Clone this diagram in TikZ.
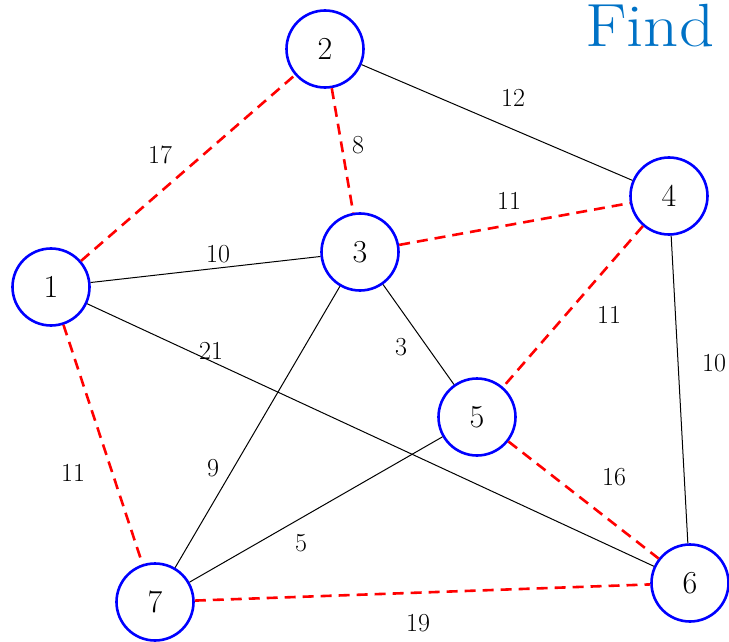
\documentclass[tikz,border=0pt]{standalone}
\definecolor{findblue}{RGB}{0,114,198}
\begin{document}
\begin{tikzpicture}[x=1pt,y=-1pt,
  vertex/.style={circle,draw=blue,line width=2.6pt,minimum size=77pt,inner sep=0pt,fill=white,font=\fontsize{32}{36}\selectfont},
  solidedge/.style={draw=black,line width=1pt},
  redge/.style={draw=red,line width=2.6pt,dash pattern=on 11pt off 7pt},
  wlabel/.style={font=\fontsize{26}{30}\selectfont,inner sep=0pt}]
\useasboundingbox (0,0) rectangle (729,642);
\node[vertex] (n1) at (51,287) {1};
\node[vertex] (n2) at (325,49) {2};
\node[vertex] (n3) at (360,252) {3};
\node[vertex] (n4) at (669,196) {4};
\node[vertex] (n5) at (477,417) {5};
\node[vertex] (n6) at (690,583) {6};
\node[vertex] (n7) at (155,602) {7};
% solid edges
\draw[solidedge] (n2) -- (n4);
\draw[solidedge] (n1) -- (n3);
\draw[solidedge] (n1) -- (n6);
\draw[solidedge] (n3) -- (n5);
\draw[solidedge] (n3) -- (n7);
\draw[solidedge] (n5) -- (n7);
\draw[solidedge] (n4) -- (n6);
% red dashed edges
\draw[redge] (n1) -- (n2);
\draw[redge] (n2) -- (n3);
\draw[redge] (n3) -- (n4);
\draw[redge] (n4) -- (n5);
\draw[redge] (n5) -- (n6);
\draw[redge] (n1) -- (n7);
\draw[redge] (n7) -- (n6);
% labels
\node[wlabel] (l24) at (513,98) {12};
\node[wlabel] (l13) at (218,254) {10};
\node[wlabel] (l16) at (211,351) {21};
\node[wlabel] (l35) at (401,347) {3};
\node[wlabel] (l37) at (213,468) {9};
\node[wlabel] (l57) at (301,543) {5};
\node[wlabel] (l46) at (714,363) {10};
\node[wlabel] (l12) at (160,155) {17};
\node[wlabel] (l23) at (358,145) {8};
\node[wlabel] (l34) at (509,201) {11};
\node[wlabel] (l45) at (609,315) {11};
\node[wlabel] (l56) at (614,477) {16};
\node[wlabel] (l17) at (73,473) {11};
\node[wlabel] (l76) at (418,623) {19};
\node[anchor=base west,inner sep=0pt,text=findblue,font=\fontsize{61}{70}\selectfont] (find) at (585,47) {\scalebox{1.13}[1]{Find}};
\end{tikzpicture}
\end{document}
